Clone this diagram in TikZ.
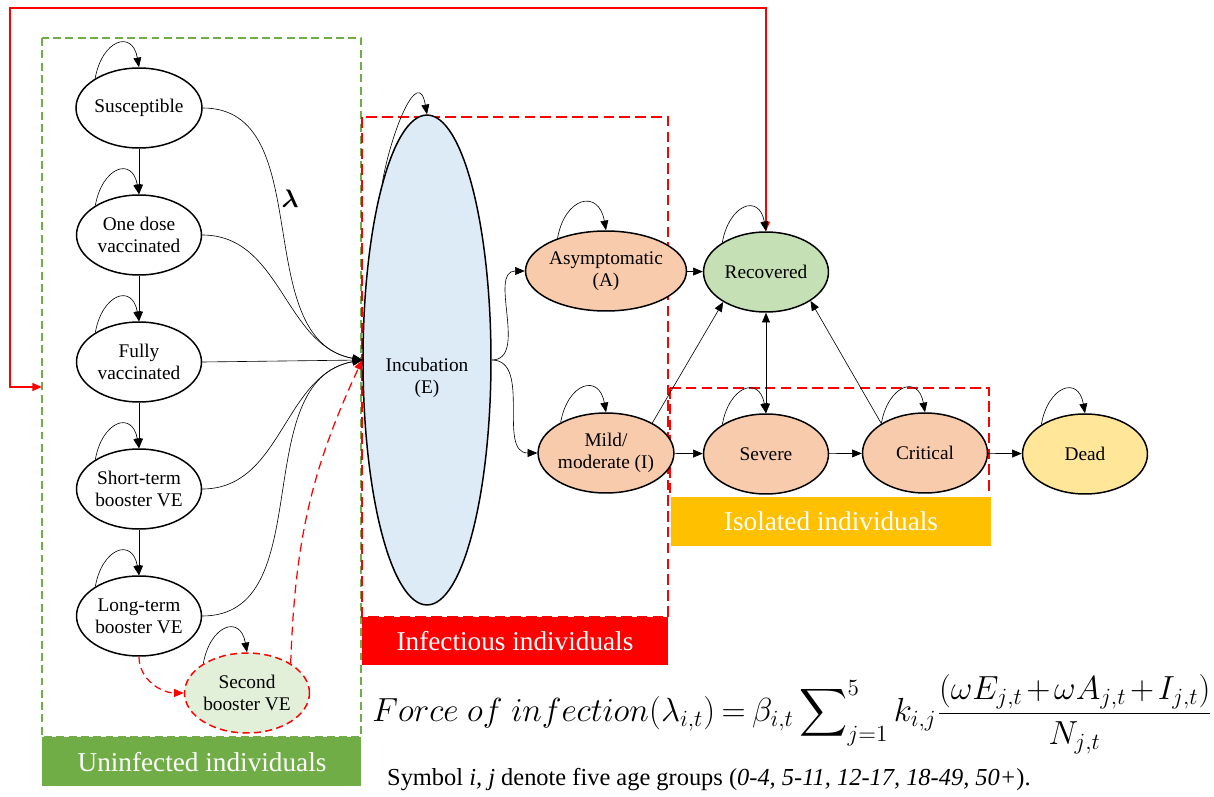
\documentclass[tikz,border=0pt]{standalone}
\usepackage{amsmath}
\usepackage{fontspec}
\setmainfont{Liberation Serif}
\usetikzlibrary{shapes.geometric,arrows.meta}

\definecolor{grpgreen}{HTML}{70AD47}
\definecolor{isoyellow}{HTML}{FFC000}
\definecolor{incblue}{HTML}{DDEBF7}
\definecolor{peach}{HTML}{F8CBAD}
\definecolor{recgreen}{HTML}{C5E0B4}
\definecolor{deadyellow}{HTML}{FFE699}
\definecolor{boostgreen}{HTML}{E2F0D9}

\tikzset{
  state/.style={ellipse, draw, line width=0.85pt, minimum width=2.5cm, minimum height=1.6cm,
                inner sep=0pt, align=center, font=\fontsize{11}{12.5}\selectfont},
  arr/.style={-{Triangle[length=5.5pt,width=4.5pt]}, line width=0.35pt},
  darr/.style={{Triangle[length=5.5pt,width=4.5pt]}-{Triangle[length=5.5pt,width=4.5pt]}, line width=0.35pt},
  selfloop/.style={out=80, in=100, looseness=2.2},
  reddash/.style={red, line width=0.9pt, dash pattern=on 6pt off 3pt},
  grouplabel/.style={text=white, font=\fontsize{15.5}{18}\selectfont},
}

\begin{document}
\begin{tikzpicture}[x=0.02cm, y=0.02cm]
  \useasboundingbox (0,0) rectangle (1214,-797);

  % group boxes
  \draw[grpgreen, line width=0.7pt, dash pattern=on 4.5pt off 2.5pt] (42,-38) rectangle (361,-737);
  \draw[reddash] (362,-117) rectangle (668,-617);
  \draw[reddash] (670,-388) -- (989,-388) -- (989,-493);
  \draw[reddash] (670,-388) -- (670,-497);
  \fill[grpgreen] (42,-737) rectangle (361,-786);
  \fill[red] (362,-617) rectangle (668,-665);
  \fill[isoyellow] (671,-497) rectangle (991,-546);
  \node[grouplabel] (uninf) at (202,-762) {Uninfected individuals};
  \node[grouplabel] (infec) at (515,-641) {Infectious individuals};
  \node[grouplabel] (isol) at (831,-521) {Isolated individuals};

  % uninfected states
  \node[state] (sus) at (139,-108) {Susceptible};
  \node[state] (one) at (139,-235) {One dose\\vaccinated};
  \node[state] (full) at (139,-362) {Fully\\vaccinated};
  \node[state] (stb) at (139,-489) {Short-term\\booster VE};
  \node[state] (ltb) at (139,-616) {Long-term\\booster VE};
  \node[state, fill=boostgreen, draw=red, dash pattern=on 4pt off 2.5pt] (sec) at (247,-693) {Second\\booster VE};

  % incubation
  \node[ellipse, draw, line width=0.85pt, fill=incblue, minimum width=2.56cm, minimum height=9.8cm,
        inner sep=0pt] (inc) at (427,-360) {};
  \node[align=center, font=\fontsize{11}{12.5}\selectfont] (inclabel) at (427,-378) {Incubation\\(E)};

  % infectious and outcome states
  \node[state, fill=peach] (asym) at (606,-271) {Asymptomatic\\(A)};
  \node[state, fill=peach] (mild) at (606,-453) {Mild/\\moderate (I)};
  \node[state, fill=recgreen] (rec) at (766,-272) {Recovered};
  \node[state, fill=peach] (sev) at (766,-454) {Severe};
  \node[state, fill=peach] (crit) at (925,-453) {Critical};
  \node[state, fill=deadyellow] (dead) at (1085,-454) {Dead};

  % vaccination chain
  \draw[arr] (sus) -- (one);
  \draw[arr] (one) -- (full);
  \draw[arr] (full) -- (stb);
  \draw[arr] (stb) -- (ltb);
  \draw[red, line width=0.7pt, dash pattern=on 4pt off 2.5pt, -{Triangle[length=5.5pt,width=4.5pt]}]
    (ltb.south) to[out=-90, in=180] (sec.west);

  % infection
  \draw[arr] (sus.east) to[out=0, in=170] (inc.west);
  \draw[arr] (one.east) to[out=0, in=170] (inc.west);
  \draw[arr] (full.east) -- (inc.west);
  \draw[arr] (stb.east) to[out=0, in=190] (inc.west);
  \draw[arr] (ltb.east) to[out=0, in=190] (inc.west);
  \draw[red, line width=0.7pt, dash pattern=on 5pt off 3pt, -{Triangle[length=5.5pt,width=4.5pt]}]
    (sec.34) to[out=88, in=245] (inc.west);
  \node[font=\fontsize{15}{17}\selectfont] (lam) at (290,-199) {$\boldsymbol{\lambda}$};

  % disease progression
  \draw[arr] (inc.east) to[out=0, in=180] (asym.west);
  \draw[arr] (inc.east) to[out=0, in=180] (mild.west);
  \draw[arr] (asym) -- (rec);
  \draw[arr] (mild) -- (sev);
  \draw[arr] (mild.33) -- (rec.215);
  \draw[darr] (sev) -- (rec);
  \draw[arr] (sev) -- (crit);
  \draw[arr] (crit.146) -- (rec.327);
  \draw[arr] (crit) -- (dead);

  % waning immunity
  \draw[red, line width=0.9pt, {Triangle[length=5.5pt,width=4.5pt]}-{Triangle[length=5.5pt,width=4.5pt]}]
    (rec.north) -- (766,-8) -- (10,-8) -- (10,-387) -- (42,-387);

  % self loops
  \foreach \n in {sus,one,full,stb,ltb,sec,asym,mild,rec,sev,crit,dead}
    \draw[arr] (\n.146) to[selfloop] (\n.north);
  \draw[arr] (inc.104) to[selfloop, looseness=1.6] (inc.north);

  % force of infection
  \node[anchor=west, font=\fontsize{18}{22}\selectfont, inner sep=0pt] (foi) at (372,-714)
    {\scalebox{1.1}{\medmuskip=2mu\thickmuskip=3.5mu$Force\ of\ infection(\lambda_{i{,}t}) = \beta_{i{,}t}\displaystyle\sum\nolimits_{j=1}^{5} k_{i{,}j}\frac{(\omega E_{j{,}t}+\omega A_{j{,}t}+I_{j{,}t})}{N_{j{,}t}}$}};
  \node[anchor=base west, font=\fontsize{13.9}{16}\selectfont] (sym) at (381,-785)
    {Symbol \textit{i, j} denote five age groups (\textit{0-4, 5-11, 12-17, 18-49, 50+}).};
\end{tikzpicture}
\end{document}
